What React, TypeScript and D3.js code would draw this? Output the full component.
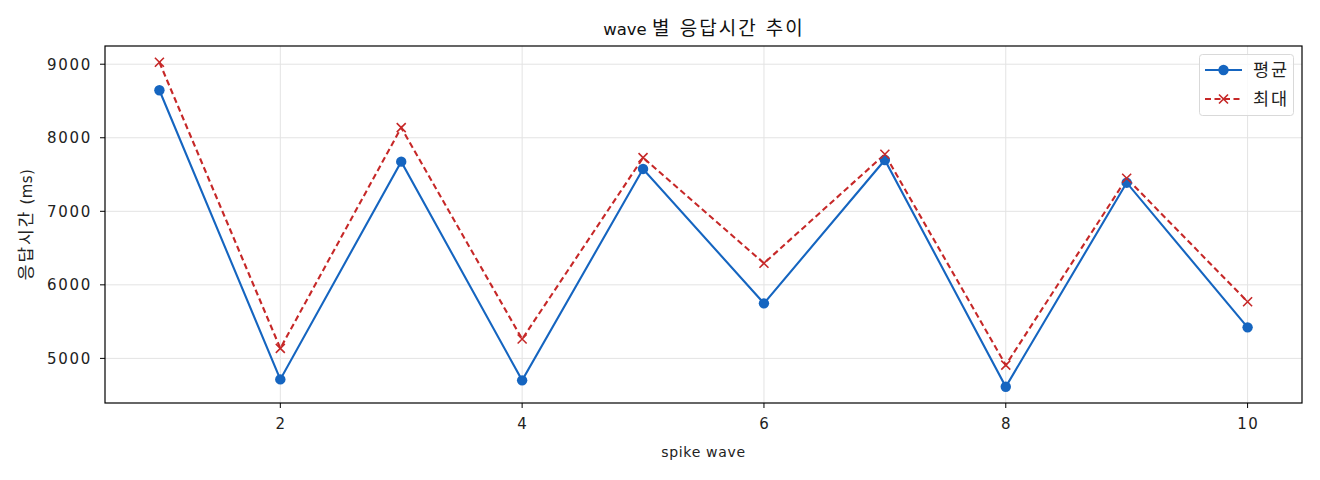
import React from "react";
import * as d3 from "d3";

const waves = [1, 2, 3, 4, 5, 6, 7, 8, 9, 10];
const avgMs = [8646, 4714, 7675, 4701, 7576, 5748, 7698, 4614, 7389, 5422];
const maxMs = [9027, 5136, 8138, 5263, 7729, 6293, 7776, 4909, 7449, 5770];
const xTicks = [2, 4, 6, 8, 10];
const yTicks = [5000, 6000, 7000, 8000, 9000];

const W = 1320;
const H = 480;
const margin = { left: 105, right: 18, top: 46, bottom: 77 };
const FONT = "'DejaVu Sans', 'Noto Sans CJK KR', sans-serif";
const KR = "'Noto Sans CJK KR', sans-serif";
const BLUE = "#1565c0";
const RED = "#c62828";
const TXT = "#222";

export default function App() {
  const x = d3
    .scaleLinear()
    .domain([0.55, 10.45])
    .range([margin.left, W - margin.right]);

  const lo = d3.min([...avgMs, ...maxMs]) ?? 0;
  const hi = d3.max([...avgMs, ...maxMs]) ?? 1;
  const pad = (hi - lo) * 0.05;
  const y = d3
    .scaleLinear()
    .domain([lo - pad, hi + pad])
    .range([H - margin.bottom, margin.top]);

  const line = d3
    .line<number>()
    .x((_, i) => x(waves[i]))
    .y((d) => y(d));

  const plotW = W - margin.left - margin.right;
  const plotH = H - margin.top - margin.bottom;
  const xMark = "M-4.5,-4.5L4.5,4.5M-4.5,4.5L4.5,-4.5";

  return (
    <svg
      width={W}
      height={H}
      style={{ position: "absolute", left: 0, top: 0, background: "#fff" }}
      fontFamily={FONT}
    >
      {/* grid */}
      <g>
        {xTicks.map((t) => (
          <line
            key={"gx" + t}
            x1={x(t)}
            x2={x(t)}
            y1={margin.top}
            y2={H - margin.bottom}
            stroke="#e3e3e3"
          />
        ))}
        {yTicks.map((t) => (
          <line
            key={"gy" + t}
            x1={margin.left}
            x2={W - margin.right}
            y1={y(t)}
            y2={y(t)}
            stroke="#e3e3e3"
          />
        ))}
      </g>

      <path d={line(avgMs) ?? ""} fill="none" stroke={BLUE} strokeWidth={2.1} />
      <path
        d={line(maxMs) ?? ""}
        fill="none"
        stroke={RED}
        strokeWidth={2.1}
        strokeDasharray="6,3.5"
      />
      {avgMs.map((v, i) => (
        <circle key={"c" + i} cx={x(waves[i])} cy={y(v)} r={5.2} fill={BLUE} />
      ))}
      {maxMs.map((v, i) => (
        <path
          key={"m" + i}
          transform={`translate(${x(waves[i])},${y(v)})`}
          d={xMark}
          stroke={RED}
          strokeWidth={1.6}
        />
      ))}

      <rect
        x={margin.left}
        y={margin.top}
        width={plotW}
        height={plotH}
        fill="none"
        stroke="#000"
        strokeWidth={1.2}
      />

      {/* ticks */}
      {xTicks.map((t) => (
        <g key={"xt" + t} transform={`translate(${x(t)},${H - margin.bottom})`}>
          <line y2={5} stroke="#000" />
          <text
            x={0.75}
            y={26}
            textAnchor="middle"
            fontSize={15}
            letterSpacing={1.5}
            fill={TXT}
          >
            {t}
          </text>
        </g>
      ))}
      {yTicks.map((t) => (
        <g key={"yt" + t} transform={`translate(${margin.left},${y(t)})`}>
          <line x2={-5} stroke="#000" />
          <text
            x={-13}
            dy="0.36em"
            textAnchor="end"
            fontSize={15}
            letterSpacing={1.7}
            fill={TXT}
          >
            {t}
          </text>
        </g>
      ))}

      {/* title and axis labels */}
      <text x={704} y={35} textAnchor="middle" fill="#111">
        <tspan fontSize={16.5}>wave </tspan>
        <tspan fontSize={19} fontFamily={KR} letterSpacing={2} wordSpacing={2}>
          별 응답시간 추이
        </tspan>
      </text>
      <text
        x={margin.left + plotW / 2}
        y={456.5}
        textAnchor="middle"
        fontSize={14}
        letterSpacing={0.7}
        fill={TXT}
      >
        spike wave
      </text>
      <text
        transform={`translate(32,${margin.top + plotH / 2}) rotate(-90)`}
        textAnchor="middle"
        fill={TXT}
      >
        <tspan fontSize={17} fontFamily={KR} letterSpacing={2}>
          응답시간
        </tspan>
        <tspan fontSize={15} letterSpacing={0.4}>
          {" (ms)"}
        </tspan>
      </text>

      {/* legend */}
      <g>
        <rect
          x={1199.5}
          y={54.5}
          width={94}
          height={61}
          rx={3}
          fill="#fff"
          fillOpacity={0.8}
          stroke="#d9d9d9"
        />
        <line x1={1205} x2={1242} y1={70} y2={70} stroke={BLUE} strokeWidth={2.1} />
        <circle cx={1223.5} cy={70} r={5.2} fill={BLUE} />
        <text
          x={1253}
          y={70}
          dy="0.36em"
          fontSize={17.5}
          fontFamily={KR}
          letterSpacing={2}
          fill={TXT}
        >
          평균
        </text>
        <line
          x1={1205}
          x2={1242}
          y1={99}
          y2={99}
          stroke={RED}
          strokeWidth={2.1}
          strokeDasharray="6,3.5"
        />
        <path
          transform="translate(1223.5,99)"
          d={xMark}
          stroke={RED}
          strokeWidth={1.6}
        />
        <text
          x={1253}
          y={99}
          dy="0.36em"
          fontSize={17.5}
          fontFamily={KR}
          letterSpacing={2}
          fill={TXT}
        >
          최대
        </text>
      </g>
    </svg>
  );
}
